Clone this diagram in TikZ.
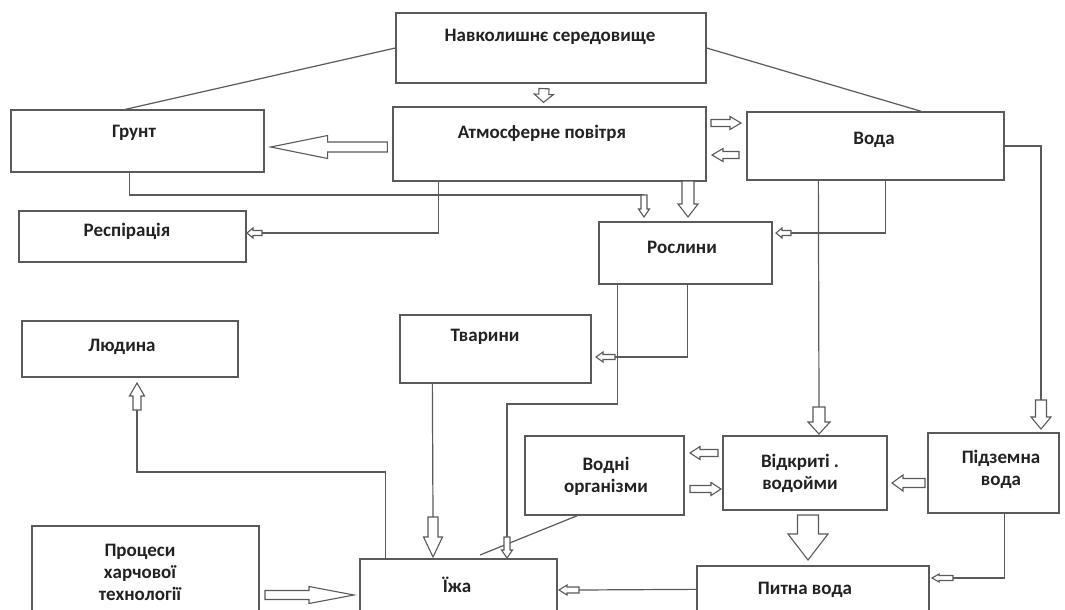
\documentclass[tikz,border=0pt]{standalone}
\usepackage{fontspec}
\setmainfont{Carlito}
\usetikzlibrary{calc,fit}
\definecolor{lc}{HTML}{5A5A5A}
\definecolor{tc}{HTML}{222222}
\newcommand\harr[5]{%
  \coordinate (hA) at #1;
  \coordinate (hB) at #2;
  \coordinate (hH) at ($(hB)!#5!(hA)$);
  \draw[harrow] ($(hA)!#3!90:(hB)$) -- ($(hH)!#3!90:(hB)$) -- ($(hH)!#4!90:(hB)$) -- (hB)
    -- ($(hH)!#4!-90:(hB)$) -- ($(hH)!#3!-90:(hB)$) -- ($(hA)!#3!-90:(hB)$) -- cycle;
}
\begin{document}
\begin{tikzpicture}[x=1pt,y=-1pt,
  box/.style={draw=lc, line width=1.3pt, inner sep=0pt, fit={#1}},
  txt/.style={text=tc, font=\fontsize{19}{22}\selectfont\bfseries, align=center, inner sep=0pt},
  conn/.style={draw=lc, line width=1.2pt},
  harrow/.style={draw=lc, line width=1.1pt, fill=white, line join=miter}]
\useasboundingbox (0,0) rectangle (1065,610);
\clip (0,0) rectangle (1065,610);
\fill[white] (0,0) rectangle (1065,610);
% boxes
\node[box={(396,13) (706,83)}] (env) {};
\node[box={(11,110) (264,172)}] (grunt) {};
\node[box={(393,107) (706,181)}] (atm) {};
\node[box={(747,112) (1004,180)}] (voda) {};
\node[box={(19,211) (246,262)}] (resp) {};
\node[box={(599,222) (772,284)}] (rosl) {};
\node[box={(400,315) (591,383)}] (tvar) {};
\node[box={(22,321) (238,377)}] (lyud) {};
\node[box={(525,436) (684,515)}] (vodni) {};
\node[box={(723,436) (887,510)}] (vidkr) {};
\node[box={(928,433) (1059,513)}] (pidz) {};
\node[box={(32,526) (259,640)}] (proc) {};
\node[box={(360,559) (557,640)}] (izha) {};
\node[box={(697,566) (929,640)}] (pytna) {};
% texts
\node[txt] (env-t) at (550,37) {Навколишнє середовище};
\node[txt] (grunt-t) at (134,133) {Грунт};
\node[txt] (atm-t) at (542,133) {Атмосферне повітря};
\node[txt] (voda-t) at (874,140) {Вода};
\node[txt] (resp-t) at (127,231) {Респірація};
\node[txt] (rosl-t) at (682,247) {Рослини};
\node[txt] (tvar-t) at (485,337) {Тварини};
\node[txt] (lyud-t) at (122,347) {Людина};
\node[txt] (vodni-t) at (606,476) {Водні\\організми};
\node[txt] (vidkr-t) at (800,473) {Відкриті .\\водойми};
\node[txt] (pidz-t) at (1001,469) {Підземна\\вода};
\node[txt] (proc-t) at (140,572) {Процеси\\харчової\\технології};
\node[txt] (izha-t) at (457,585) {Їжа};
\node[txt] (pytna-t) at (805,590) {Питна вода};
% plain connectors
\draw[conn] (env.west) -- ($(grunt.north west)+(115,0)$);
\draw[conn] (env.east) -- ($(voda.north west)+(175,0)$);
\draw[conn] ($(grunt.south west)+(119,0)$) |- (644,195);
\draw[conn] ($(atm.south west)+(46,0)$) |- (261,233);
\draw[conn] ($(voda.south west)+(139,0)$) |- (791,233);
\draw[conn] ($(voda.south west)+(72,0)$) -- (819,407);
\draw[conn] (voda.east) -| (1041,400);
\draw[conn] ($(rosl.south west)+(89,0)$) |- (615,357);
\draw[conn] ($(rosl.south west)+(19,0)$) |- (507,404) -- (507,537);
\draw[conn] ($(tvar.south west)+(33,0)$) -- (433,517);
\draw[conn] ($(izha.north west)+(26,0)$) |- (137,472) -- (137,410);
\draw[conn] ($(vodni.south west)+(53,0)$) -- (480,555);
\draw[conn] ($(pidz.south west)+(77,0)$) |- (953,578);
\draw[conn] (pytna.north west) ++(0,24) -- (579,590);
% hollow block arrows
\harr{($(env.south)+(-7,5)$)}{($(atm.north)+(-6,-4)$)}{5pt}{9.5pt}{8pt}
\harr{($(atm.west)+(-5,3)$)}{($(grunt.east)+(6,6)$)}{5pt}{11.5pt}{57pt}
\harr{(711,123)}{(741,123)}{3.5pt}{6.5pt}{11pt}
\harr{(739,155)}{(712,155)}{3.5pt}{6.5pt}{11pt}
\harr{(688,181)}{(688,217)}{6pt}{10pt}{13pt}
\harr{(644,195)}{(644,217)}{3pt}{5.5pt}{8pt}
\harr{(262,233)}{(247,233)}{2.5pt}{5pt}{6pt}
\harr{(791,233)}{(776,233)}{2.5pt}{5pt}{6pt}
\harr{(819,407)}{(819,434)}{6pt}{11pt}{12pt}
\harr{(1041,400)}{(1041,429)}{5.5pt}{10pt}{12pt}
\harr{(615,357)}{(596,357)}{2.5pt}{5pt}{7pt}
\harr{(507,537)}{(507,558)}{3pt}{5.5pt}{8pt}
\harr{(433,517)}{(433,557)}{5pt}{9.5pt}{20pt}
\harr{(137,410)}{(137,383)}{4pt}{7.5pt}{13pt}
\harr{(718,453)}{(690,453)}{3.5pt}{6.5pt}{10pt}
\harr{(690,489)}{(721,489)}{3.5pt}{6.5pt}{10pt}
\harr{(925,483)}{(892,483)}{4.5pt}{8pt}{11pt}
\harr{(808,515)}{(808,560)}{10.5pt}{20pt}{26pt}
\harr{(953,578)}{(932,578)}{2.5pt}{4pt}{7pt}
\harr{(579,590)}{(559,590)}{3pt}{5pt}{8pt}
\harr{(265,595)}{(354,595)}{4.5pt}{8.5pt}{45pt}
\end{tikzpicture}
\end{document}
